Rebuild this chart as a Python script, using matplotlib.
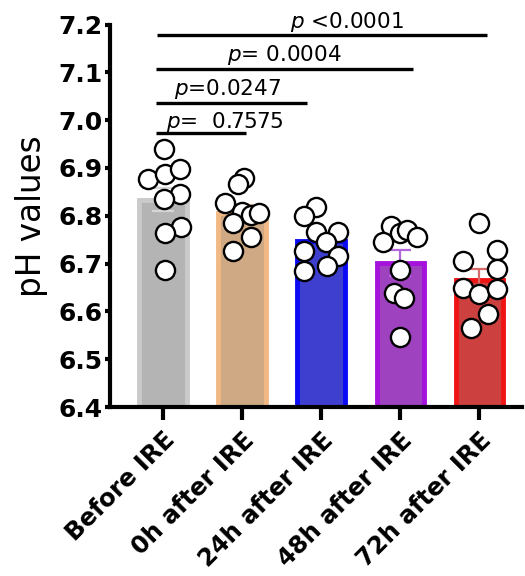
import matplotlib
matplotlib.use("Agg")
import matplotlib.pyplot as plt
from matplotlib.ticker import MultipleLocator, FormatStrFormatter

# ---- data ----
categories = ["Before IRE", "0h after IRE", "24h after IRE", "48h after IRE", "72h after IRE"]
means = [6.834, 6.806, 6.747, 6.701, 6.666]
sems = [0.025, 0.016, 0.015, 0.027, 0.023]

pts_before = [6.939, 6.876, 6.887, 6.897, 6.845, 6.836, 6.777, 6.765, 6.686]
pts_0h = [6.878, 6.866, 6.827, 6.808, 6.801, 6.806, 6.785, 6.756, 6.727]
pts_24h = [6.819, 6.799, 6.767, 6.767, 6.746, 6.727, 6.716, 6.695, 6.685]
pts_48h = [6.778, 6.764, 6.770, 6.756, 6.746, 6.686, 6.638, 6.629, 6.547]
pts_72h = [6.785, 6.728, 6.706, 6.688, 6.648, 6.636, 6.646, 6.594, 6.566]

jit_before = [0.01, -0.19, 0.02, 0.22, 0.22, 0.01, 0.23, 0.02, 0.02]
jit_0h = [0.03, -0.05, -0.22, 0.00, 0.11, 0.22, -0.11, 0.11, -0.11]
jit_24h = [-0.07, -0.22, -0.07, 0.21, 0.06, -0.22, 0.21, 0.07, -0.22]
jit_48h = [-0.12, -0.01, 0.09, 0.21, -0.22, -0.01, -0.08, 0.05, -0.01]
jit_72h = [0.00, 0.22, -0.21, 0.22, -0.21, 0.00, 0.22, 0.11, -0.10]

comparisons = [  # (x start, x end, line y, text)
    (-0.09, 1.05, 6.974, r"$\it{p}$=  0.7575"),
    (-0.09, 1.82, 7.035, r"$\it{p}$=0.0247"),
    (-0.09, 3.16, 7.108, r"$\it{p}$= 0.0004"),
    (-0.07, 4.10, 7.178, r"$\it{p}$ <0.0001"),
]
text_pos = [(0.785, 6.983), (0.82, 7.0525), (1.53, 7.124), (2.33, 7.193)]

face_colors = ["#b4b4b4", "#cfa884", "#3f3fcf", "#9f42bf", "#cc4040"]
edge_colors = ["#cacaca", "#f2b985", "#0a0af5", "#a412dc", "#f01515"]
err_colors = ["#d6d6d6", "#f3c49a", "#3a3aff", "#b466dc", "#d86a6a"]

points = [pts_before, pts_0h, pts_24h, pts_48h, pts_72h]
jitters = [jit_before, jit_0h, jit_24h, jit_48h, jit_72h]

plt.rcParams["font.family"] = ["DejaVu Sans"]

fig = plt.figure(figsize=(5.25, 5.76), dpi=100)
ax = fig.add_axes([0.2095, 0.2934, 0.785, 0.664])

xs = list(range(len(categories)))
for i in xs:
    ax.bar(i, means[i] - 6.4, bottom=6.4, width=0.6, color=face_colors[i],
           edgecolor=edge_colors[i], linewidth=3.5, zorder=1)
    ax.errorbar(i, means[i], yerr=sems[i], color=err_colors[i], lw=1.6,
                capsize=8, capthick=1.6, zorder=2)
    ax.scatter([i + j for j in jitters[i]], points[i], s=190, facecolor="white",
               edgecolor="black", linewidth=1.7, zorder=3, clip_on=False)

for (x0, x1, y, txt), (tx, ty) in zip(comparisons, text_pos):
    ax.plot([x0, x1], [y, y], color="black", lw=2.4, solid_capstyle="butt",
            clip_on=False, zorder=4)
    ax.text(tx, ty, txt, ha="center", va="baseline", fontsize=15.5, zorder=5,
            clip_on=False)

ax.set_xlim(-0.67, 4.54)
ax.set_ylim(6.4, 7.2)
ax.yaxis.set_major_locator(MultipleLocator(0.1))
ax.yaxis.set_minor_locator(MultipleLocator(0.05))
ax.yaxis.set_major_formatter(FormatStrFormatter("%.1f"))

ax.set_xticks(xs)
ax.set_xticklabels(categories, rotation=45, ha="right", rotation_mode="anchor",
                   fontsize=17.5, fontweight="bold")
for lab in ax.get_yticklabels():
    lab.set_fontweight("bold")
ax.tick_params(axis="y", which="major", labelsize=18, length=3.5, width=3, pad=2)
ax.tick_params(axis="y", which="minor", length=1.8, width=3)
ax.tick_params(axis="x", which="major", length=9, width=3, pad=6)

ax.set_ylabel("pH values", fontsize=23.5, labelpad=7)

for side in ["top", "right"]:
    ax.spines[side].set_visible(False)
for side in ["left", "bottom"]:
    ax.spines[side].set_linewidth(3)
    ax.spines[side].set_zorder(6)

fig.savefig("out.png", dpi=100)
